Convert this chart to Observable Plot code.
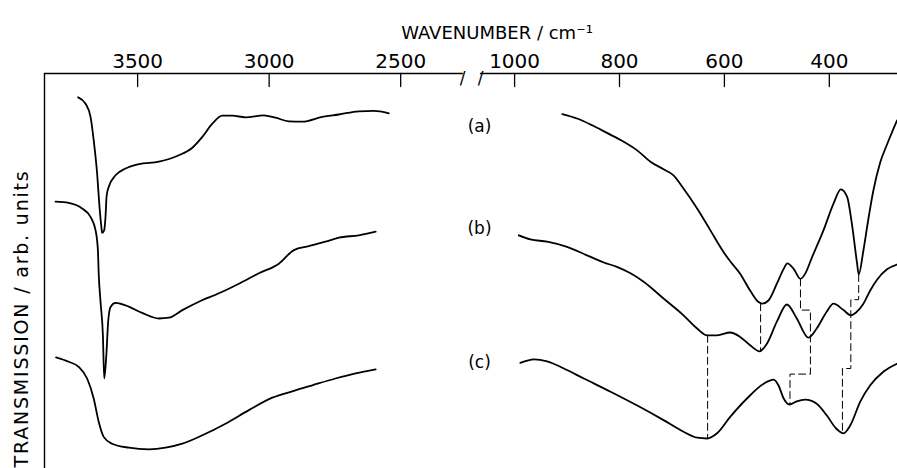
<!DOCTYPE html>
<html>
<head>
<meta charset="utf-8">
<script src="https://cdn.jsdelivr.net/npm/d3@7"></script>
<script src="https://cdn.jsdelivr.net/npm/@observablehq/plot@0.6"></script>
<style>
  html, body { margin: 0; padding: 0; background: #fff; }
</style>
</head>
<body>
<div id="chart"></div>
<script>
// ---- axis definitions (broken wavenumber axis) ----
const xTicks = [3500, 3000, 2500, 1000, 800, 600, 400];
const xDomain = [3854, 2265, 1065, 270];          // left panel 3854–2265, right panel 1065–270
const yDomain = [0, 98.75];                        // transmission, arb. units
const panels = [{from: 3854, to: 2265}, {from: 1065, to: 270}];
const xTitle = "WAVENUMBER / cm\u207B\u00B9";
const yTitle = "TRANSMISSION / arb. units";

// ---- spectra: [wavenumber, transmission] ----
// O–H stretching region
const aOH = [[3726,92.8],[3698,91.2],[3679,87.9],[3667,82.1],[3654,73.8],[3645,65.5],[3638,60.5],[3635,58.9],[3627,59.6],[3622,63],[3618,68],[3610,70.4],[3584,73.3],[3546,75],[3495,76.1],[3419,76.7],[3343,78.3],[3292,80.2],[3254,82.9],[3216,86.2],[3178,88.2],[3140,88.2],[3090,87.8],[3020,88.3],[2976,87.7],[2925,86.8],[2874,86.7],[2798,87.9],[2735,88.5],[2659,89.3],[2602,89.4],[2545,88.8]];
const bOH = [[3812,66.7],[3762,66.4],[3711,65],[3679,62.9],[3660,59.6],[3651,54.6],[3648,48.8],[3641,41.7],[3632,33.3],[3627,22.5],[3619,28.3],[3612,36.7],[3603,40.4],[3584,41.4],[3546,40.8],[3483,38.9],[3419,37.5],[3381,37.7],[3330,39.6],[3267,41.7],[3191,43.8],[3115,46.2],[3039,48.8],[2963,51.2],[2906,54.6],[2849,55.6],[2786,56.7],[2735,57.7],[2659,58.3],[2595,59.2]];
const cOH = [[3810,27.8],[3762,26.7],[3724,25.4],[3692,22.5],[3667,17.5],[3648,11.7],[3629,7.9],[3597,6.2],[3533,5.2],[3457,4.8],[3394,5.2],[3330,6.2],[3254,8.3],[3166,11.2],[3077,14.6],[2988,17.7],[2912,19.3],[2836,20.8],[2748,22.5],[2671,23.8],[2595,24.8]];
// lattice region
const aLow = [[909,88.6],[881,87.5],[852,85.8],[824,83.9],[792,81.7],[767,79.6],[741,76.7],[716,74.8],[697,73.3],[678,70],[652,65],[627,59.6],[602,54.2],[589,51.8],[570,48.7],[551,44.5],[535,41.6],[528,41.2],[516,42],[500,46.2],[487,49.9],[480,51.3],[468,49.9],[455,47.4],[446,48.7],[433,52.8],[411,59.6],[392,66.2],[378,69.8],[366,67.9],[357,61.2],[347,51.2],[344,48.5],[335,54.5],[326,62],[316,69.5],[303,76.5],[290,81],[271,87]];
const bLow = [[992,58.3],[970,57.3],[938,56.7],[900,55.4],[862,53.3],[830,51.5],[805,50.4],[779,48.8],[754,46.7],[716,42.5],[678,38.3],[652,35],[633,33.3],[614,33.3],[589,34],[570,32.9],[551,30.8],[533,29.3],[519,31.2],[500,36.7],[481,41],[462,37.5],[440,32.7],[424,35],[405,39.2],[392,41.2],[373,39.6],[359,38.3],[349,39],[335,41.2],[322,44.5],[309,47.2],[290,49.8],[271,51]];
const cLow = [[989,26.4],[963,27.3],[938,26.8],[906,25],[868,22.5],[817,19.2],[767,15.8],[716,12.1],[678,9.2],[652,7.7],[633,7.5],[614,8.8],[589,12.9],[557,17.5],[525,21.2],[506,22.2],[497,20.8],[487,17.5],[476,16],[462,16.8],[446,17.2],[424,16.2],[405,13.3],[387,10],[373,8.8],[360,10.8],[341,16.7],[322,20.8],[297,24.2],[271,26.2]];

// dashed band-correlation connectors
const link1 = [[632,33.3],[632,7.5]];
const link2 = [[531,41.2],[531,29.3]];
const link3 = [[455,47.4],[455,39.6],[436,39.6],[436,23.6],[475,23.6],[475,16]];
const link4 = [[344,48.5],[344,42.2],[359,42.2],[359,25],[375,25],[375,8.8]];

// curve labels
const curveNames = ["(a)", "(b)", "(c)"];
const curveLabelLevels = [85.5, 60, 26.5];

// ---- build tables ----
const spectra = [];
for (const [series, region, pts] of [["a","OH",aOH],["b","OH",bOH],["c","OH",cOH],["a","low",aLow],["b","low",bLow],["c","low",cLow]]) {
  for (const [wn, t] of pts) spectra.push({series, key: series + region, wn, t});
}
const connectors = [];
[link1, link2, link3, link4].forEach((pts, i) => {
  for (const [wn, t] of pts) connectors.push({id: i, wn, t});
});
const labels = curveNames.map((label, i) => ({label, t: curveLabelLevels[i]}));
// top frame edge of each panel
const frameTop = panels.flatMap((p, i) => [{id: i, wn: p.from, t: yDomain[1]}, {id: i, wn: p.to, t: yDomain[1]}]);

// tick shape: a straight stroke pointing along the vector
const tickShape = {draw(context, l) { context.moveTo(0, 0); context.lineTo(0, -l); }};

const plot = Plot.plot({
  width: 897,
  height: 468,
  marginLeft: 44,
  marginRight: 0,
  marginTop: 73,
  marginBottom: 0,
  style: {fontFamily: "'DejaVu Sans', sans-serif", fontSize: "20px", background: "#fff", color: "#000", overflow: "visible"},
  x: {type: "linear", domain: xDomain, range: [44, 462, 480, 897]},
  y: {domain: yDomain, axis: null},
  marks: [
    // tick labels
    Plot.axisX({anchor: "top", ticks: xTicks, tickSize: 0, tickPadding: 6, tickFormat: "d", label: null, fontSize: 20}),
    // inward tick marks
    Plot.vector(xTicks, {x: d => d, frameAnchor: "top", length: 13, rotate: 180, anchor: "start", shape: tickShape, stroke: "#000", strokeWidth: 1.3}),
    // top frame, broken
    Plot.line(frameTop, {x: "wn", y: "t", z: "id", stroke: "#000", strokeWidth: 1.4}),
    // left frame
    Plot.ruleX([xDomain[0]], {strokeWidth: 1.4}),
    // axis break marks
    Plot.text([panels[0].to, panels[1].from], {x: d => d, frameAnchor: "top", text: () => "/", fontSize: 17, dy: -2}),
    // spectra
    Plot.line(spectra, {x: "wn", y: "t", z: "key", curve: "monotone-x", stroke: "#000", strokeWidth: 1.8}),
    // dashed connectors
    Plot.line(connectors, {x: "wn", y: "t", z: "id", stroke: "#000", strokeWidth: 1, strokeDasharray: "7,4"}),
    // curve labels
    Plot.text(labels, {x: () => xDomain[2], y: "t", text: "label", fontSize: 17, dx: -1}),
    // x title
    Plot.text([xTitle], {frameAnchor: "top", text: d => d, fontSize: 18, dx: 26, dy: -47}),
    // y title
    Plot.text([yTitle], {frameAnchor: "left", text: d => d, textAnchor: "middle", rotate: -90, fontSize: 19, dx: -23, dy: 47.5})
  ]
});
d3.select(plot).selectAll("text")
  .filter(function() { return this.textContent === yTitle; })
  .attr("letter-spacing", "1.8px");
document.getElementById("chart").appendChild(plot);
</script>
</body>
</html>
